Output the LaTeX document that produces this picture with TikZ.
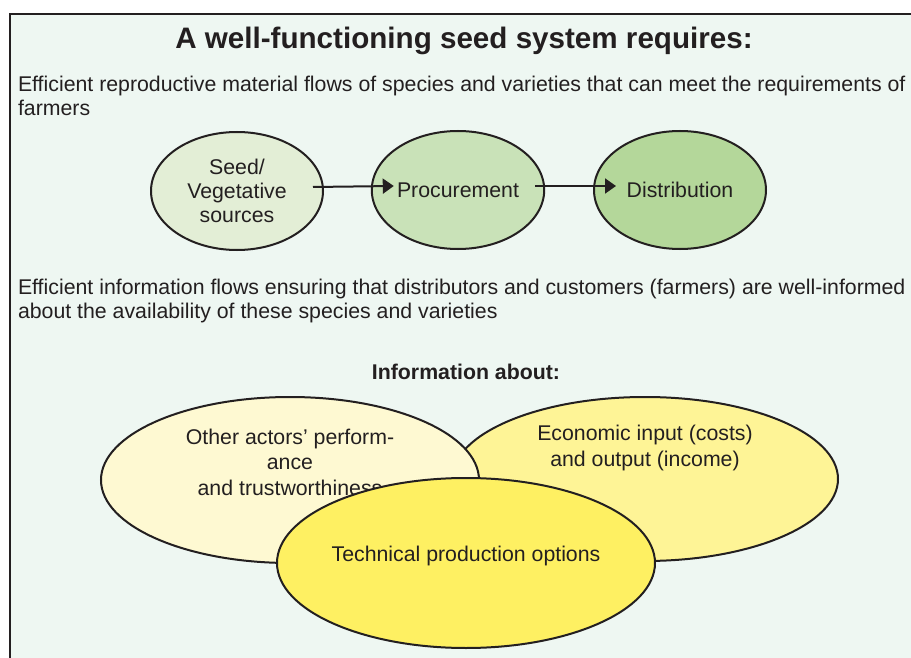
\documentclass[tikz,border=0pt]{standalone}
\usepackage{fontspec}
\setmainfont{Liberation Sans}
\usetikzlibrary{shapes, arrows.meta}

\definecolor{inkdark}{RGB}{35,31,32}
\definecolor{bgmint}{RGB}{238,247,242}
\definecolor{seedgreen}{RGB}{227,238,214}
\definecolor{procgreen}{RGB}{201,226,184}
\definecolor{distgreen}{RGB}{180,215,154}
\definecolor{paleyellow}{RGB}{254,249,210}
\definecolor{midyellow}{RGB}{254,244,150}
\definecolor{deepyellow}{RGB}{254,240,98}

\begin{document}
\begin{tikzpicture}[x=1pt, y=-1pt,
every node/.style = {inner sep=0pt, outer sep=0pt, text=inkdark,
                     font=\fontsize{21.3}{24}\selectfont},
flowbox/.style = {ellipse, draw=inkdark, line width=2pt, align=center,
                  minimum width=172pt, minimum height=118pt},
infobox/.style = {ellipse, draw=inkdark, line width=2pt,
                  minimum width=380pt, minimum height=168pt},
infotext/.style = {align=center, font=\fontsize{21.3}{25.5}\selectfont},
flow/.style = {draw=inkdark, line width=2pt,
               -{Triangle[length=11pt, width=15pt]}}]
\useasboundingbox (0,0) rectangle (911,658);
\clip (0,0) rectangle (911,658);
% frame runs off the right and bottom edge
\draw[fill=bgmint, draw=inkdark, line width=2pt] (10,14) rectangle (940,690);

\node[font=\bfseries\fontsize{29.6}{34}\selectfont] (title) at (464,41)
  {A well-functioning seed system requires:};
\node[anchor=north west, align=left] (materialText) at (18,76)
  {Efficient reproductive material flows of species and varieties that can meet the requirements of\\farmers};

% material flow chain
\node[flowbox, fill=seedgreen] (seedSources) at (237,191) {Seed/\\Vegetative\\sources};
\node[flowbox, fill=procgreen] (procurement) at (458,190) {Procurement};
\node[flowbox, fill=distgreen] (distribution) at (680,190) {Distribution};
\draw[flow] ([xshift=-10pt, yshift=4pt]seedSources.east) -- ([xshift=22pt, yshift=4pt]procurement.west);
\draw[flow] ([xshift=-9pt, yshift=4pt]procurement.east) -- ([xshift=22pt, yshift=4pt]distribution.west);

\node[anchor=north west, align=left] (infoText) at (18,279)
  {Efficient information flows ensuring that distributors and customers (farmers) are well-informed\\about the availability of these species and varieties};
\node[font=\bfseries\fontsize{21.3}{24}\selectfont] (infoAbout) at (466,372) {Information about:};

% overlapping information fields, back to front
\node[infobox, fill=midyellow, minimum width=386pt, minimum height=164pt] (economic) at (645,479) {};
\node[infotext] (economicText) at ([yshift=31pt]economic.center)
  {Economic input (costs)\\and output (income)};
\node[infobox, fill=paleyellow, minimum width=378pt, minimum height=166pt] (actors) at (290,480) {};
\node[infotext] (actorsText) at ([yshift=18pt]actors.center)
  {Other actors’ perform-\\ance\\and trustworthiness};
\node[infobox, fill=deepyellow, minimum width=378pt, minimum height=170pt] (technical) at (466,563) {};
\node (technicalText) at ([yshift=7pt]technical.center) {Technical production options};
\end{tikzpicture}
\end{document}
